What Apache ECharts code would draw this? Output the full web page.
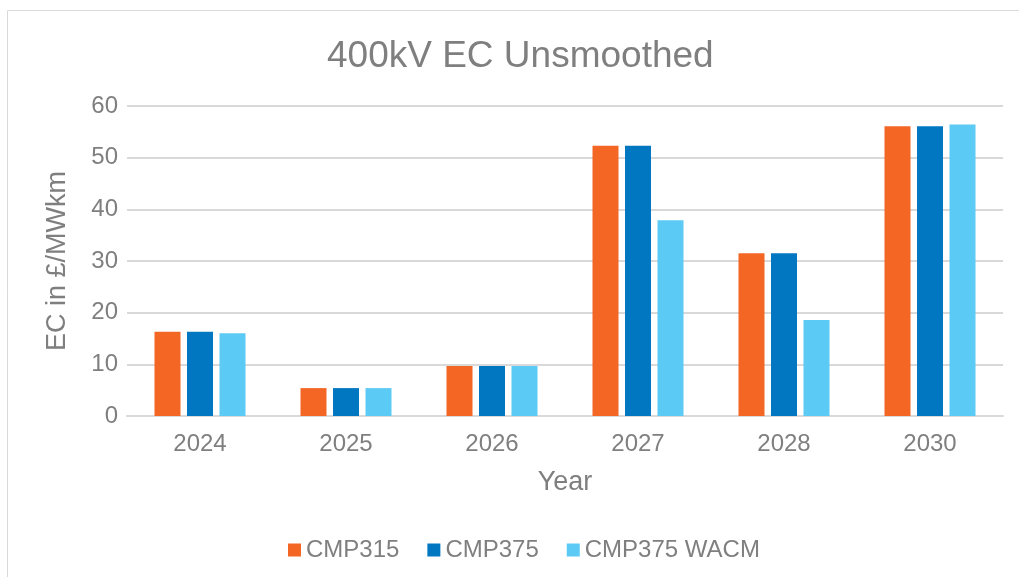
<!DOCTYPE html>
<html><head><meta charset="utf-8">
<script src="https://cdn.jsdelivr.net/npm/echarts@6/dist/echarts.min.js"></script>
<style>html,body{margin:0;padding:0;background:#fff}#c{width:1019px;height:577px}</style>
</head><body><div id="c"></div>
<script>
const categories = ['2024','2025','2026','2027','2028','2030'];
const seriesNames = ['CMP315','CMP375','CMP375 WACM'];
const cmp315 = [16.3, 5.4, 9.7, 52.3, 31.5, 56.1];
const cmp375 = [16.3, 5.4, 9.7, 52.3, 31.5, 56.1];
const cmp375wacm = [16.0, 5.4, 9.7, 37.9, 18.6, 56.4];
const colors = ['#F36624', '#0077C0', '#5BCAF5'];
const font = 'Liberation Sans, Arial, sans-serif';
const txt = '#7F7F7F';
const chart = echarts.init(document.getElementById('c'));
const mk = (name, data, i) => ({
  name, type: 'bar', data, barWidth: 26, barGap: '25%',
  itemStyle: { color: colors[i] }
});
chart.setOption({
  animation: false,
  textStyle: { fontFamily: font },
  graphic: [{ type: 'rect', shape: { x: 7.5, y: 10.5, width: 1030, height: 600 },
    style: { fill: 'none', stroke: '#D9D9D9', lineWidth: 1 } }],
  title: { text: '400kV EC Unsmoothed', left: 322, top: 33,
    textStyle: { fontFamily: font, fontSize: 37, fontWeight: 'normal', color: txt } },
  legend: { bottom: 10, left: 283, itemWidth: 13, itemHeight: 13, itemGap: 28,
    icon: 'rect', textStyle: { fontFamily: font, fontSize: 24, color: txt },
    data: seriesNames },
  grid: { left: 127, right: 16, top: 106, bottom: 161 },
  xAxis: { type: 'category', data: categories, name: 'Year', nameLocation: 'middle', nameGap: 53,
    nameTextStyle: { fontFamily: font, fontSize: 27, color: txt },
    axisLine: { lineStyle: { color: '#D9D9D9', width: 2 } }, axisTick: { show: false },
    axisLabel: { fontFamily: font, fontSize: 24, color: txt, margin: 16 } },
  yAxis: { type: 'value', min: 0, max: 60, interval: 10, name: 'EC in £/MWkm', nameLocation: 'middle',
    nameGap: 56, nameTextStyle: { fontFamily: font, fontSize: 27, color: txt },
    axisLine: { show: false }, axisTick: { show: false },
    axisLabel: { fontFamily: font, fontSize: 24, color: txt, margin: 9 },
    splitLine: { lineStyle: { color: '#D9D9D9', width: 2 } } },
  series: [mk(seriesNames[0], cmp315, 0), mk(seriesNames[1], cmp375, 1), mk(seriesNames[2], cmp375wacm, 2)]
});
</script></body></html>
